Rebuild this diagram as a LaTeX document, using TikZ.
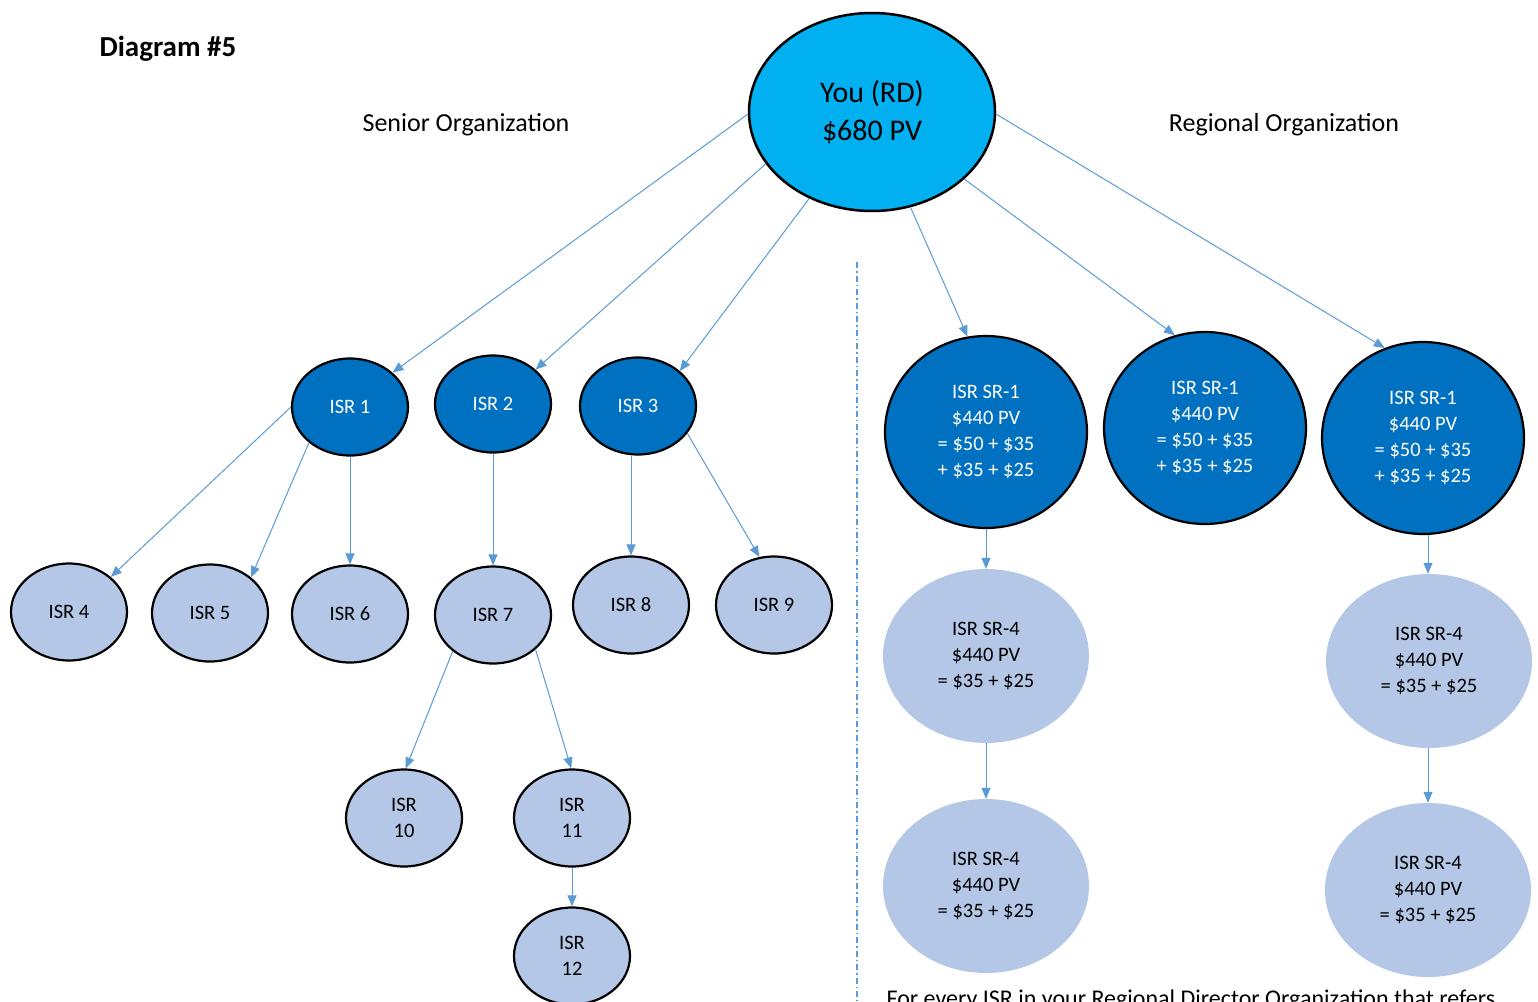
\documentclass[tikz,border=0pt]{standalone}
\usepackage{fontspec}
\setmainfont{Carlito}
\usetikzlibrary{shapes.geometric,arrows.meta}
\definecolor{youcyan}{HTML}{00B0F0}
\definecolor{darkisr}{HTML}{0070C0}
\definecolor{lightisr}{HTML}{B4C7E7}
\definecolor{connblue}{HTML}{5B9BD5}
\begin{document}
\begin{tikzpicture}[x=1pt,y=-1pt,
  ell/.style={ellipse, inner sep=0pt, align=center, font=\fontsize{20.5}{26.3}\selectfont},
  darknode/.style={ell, fill=darkisr, draw=black, line width=2.2pt, text=white, minimum width=116pt, minimum height=97pt},
  lightnode/.style={ell, fill=lightisr, draw=black, line width=2.2pt, text=black, minimum width=116pt, minimum height=97pt},
  srbig/.style={ell, fill=darkisr, draw=black, line width=2.2pt, text=white, minimum width=202pt, minimum height=192pt},
  srlight/.style={ell, fill=lightisr, text=black, minimum width=206pt, minimum height=174pt},
  arrowline/.style={draw=connblue, line width=1pt, -{Triangle[length=11pt,width=9pt]}},
  label/.style={font=\fontsize{26}{30}\selectfont}
]
\clip (0,0) rectangle (1538,1001);
\fill[white] (0,0) rectangle (1538,1001);

% title and labels
\node[anchor=west, font=\fontsize{29}{34}\selectfont\bfseries] (title) at (96,49) {Diagram \#5};
\node[label] (senior) at (466,124.5) {Senior Organization};
\node[label] (regional) at (1284,124.5) {Regional Organization};
\node[anchor=base west, font=\fontsize{24}{28}\selectfont] (footer) at (883,1006.5) {For every ISR in your Regional Director Organization that refers};

% divider
\coordinate (divtop) at (857,262);
\coordinate (divbot) at (857,1001);
\draw[connblue, line width=1.2pt, dash pattern=on 6pt off 3pt on 1.5pt off 3pt] (divtop) -- (divbot);

% root
\node[ellipse, fill=youcyan, draw=black, line width=2.5pt, minimum width=246pt, minimum height=198pt, inner sep=0pt, align=center, font=\fontsize{30}{38}\selectfont] (you) at (872,112) {You (RD)\\\$680 PV};

% senior organization
\node[darknode] (isr1) at (350,407) {ISR 1};
\node[darknode] (isr2) at (493,404) {ISR 2};
\node[darknode] (isr3) at (638,406) {ISR 3};
\node[lightnode] (isr4) at (69,612) {ISR 4};
\node[lightnode] (isr5) at (210,613) {ISR 5};
\node[lightnode] (isr6) at (350,614) {ISR 6};
\node[lightnode] (isr7) at (493,615) {ISR 7};
\node[lightnode] (isr8) at (631,605) {ISR 8};
\node[lightnode] (isr9) at (774,605) {ISR 9};
\node[lightnode] (isr10) at (404,818) {ISR\\10};
\node[lightnode] (isr11) at (572,818) {ISR\\11};
\node[lightnode] (isr12) at (572,956) {ISR\\12};

% regional organization
\node[srbig] (sr1a) at (986,432) {ISR SR-1\\\$440 PV\\= \$50 + \$35\\+ \$35 + \$25};
\node[srbig] (sr1b) at (1205,428) {ISR SR-1\\\$440 PV\\= \$50 + \$35\\+ \$35 + \$25};
\node[srbig] (sr1c) at (1423,438) {ISR SR-1\\\$440 PV\\= \$50 + \$35\\+ \$35 + \$25};
\node[srlight] (sr4a) at (986,656) {ISR SR-4\\\$440 PV\\= \$35 + \$25};
\node[srlight] (sr4b) at (986,886) {ISR SR-4\\\$440 PV\\= \$35 + \$25};
\node[srlight] (sr4c) at (1429,661) {ISR SR-4\\\$440 PV\\= \$35 + \$25};
\node[srlight] (sr4d) at (1428,890) {ISR SR-4\\\$440 PV\\= \$35 + \$25};

% connectors from root
\draw[arrowline] (you.181) -- (isr1.39);
\draw[arrowline] (you.206) -- (isr2.39);
\draw[arrowline] (you.234) -- (isr3.40);
\draw[arrowline] (you.292) -- (sr1a.101);
\draw[arrowline] (you.324) -- (sr1b.108);
\draw[arrowline] (you.359) -- (sr1c.113);

% senior connectors
\draw[arrowline] (isr1.180) -- (isr4.40);
\draw[arrowline] (isr1.221) -- (isr5.41);
\draw[arrowline] (isr1.south) -- (isr6.north);
\draw[arrowline] (isr2.south) -- (isr7.north);
\draw[arrowline] (isr8.north |- isr3.south) -- (isr8.north);
\draw[arrowline] (isr3.331) -- (isr9.107);
\draw[arrowline] (isr7.222) -- (isr10.88);
\draw[arrowline] (isr7.321) -- (isr11.91);
\draw[arrowline] (isr11.south) -- (isr12.north);

% regional connectors
\draw[arrowline] (sr1a.south) -- (sr4a.north);
\draw[arrowline] (sr4a.south) -- (sr4b.north);
\draw[arrowline] (sr4d.north |- sr1c.south) -- (sr4d.north |- sr4c.north);
\draw[arrowline] (sr4d.north |- sr4c.south) -- (sr4d.north);
\end{tikzpicture}
\end{document}
